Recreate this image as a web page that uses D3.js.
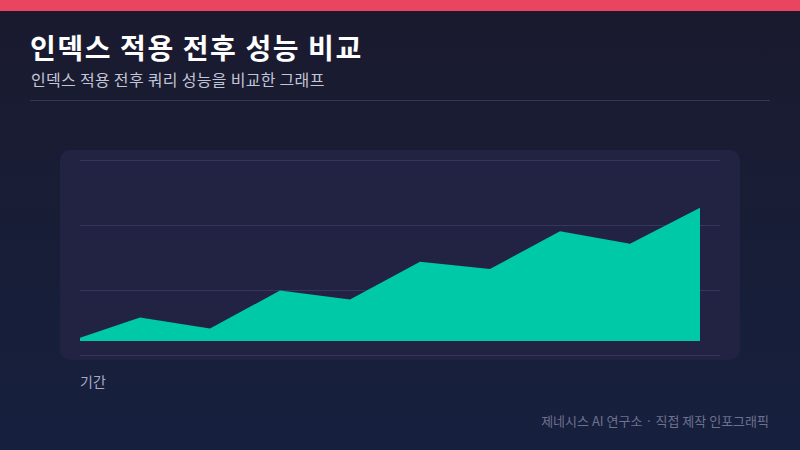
<!DOCTYPE html>
<html>
<head>
<meta charset="utf-8">
<script src="https://cdn.jsdelivr.net/npm/d3@7"></script>
<style>
  html, body { margin: 0; padding: 0; }
  body { width: 800px; height: 450px; overflow: hidden; }
  svg { display: block; }
</style>
</head>
<body>
<div id="chart"></div>
<script>
// periods (not labelled in the picture) and query performance values
var periods = ["1", "2", "3", "4", "5", "6", "7", "8", "9", "10"];
var values = [12, 25, 19, 40, 35, 56, 52, 73, 66, 86];
var gridCount = 4;

var titleText = "인덱스 적용 전후 성능 비교";
var subtitleText = "인덱스 적용 전후 쿼리 성능을 비교한 그래프";
var xLabelText = "기간";
var footerText = "제네시스 AI 연구소 · 직접 제작 인포그래픽";

var width = 800;
var height = 450;
var font = "'Noto Sans CJK KR', 'Noto Sans', sans-serif";

var svg = d3.select("#chart")
  .append("svg")
  .attr("width", width)
  .attr("height", height);

// background gradient
var defs = svg.append("defs");
var bg = defs.append("linearGradient")
  .attr("id", "bg")
  .attr("x1", 0).attr("y1", 0)
  .attr("x2", 0).attr("y2", 1);
bg.append("stop").attr("offset", "0%").attr("stop-color", "#1a1a2e");
bg.append("stop").attr("offset", "100%").attr("stop-color", "#16203e");

svg.append("rect")
  .attr("width", width)
  .attr("height", height)
  .attr("fill", "url(#bg)");

// top accent bar
svg.append("rect")
  .attr("width", width)
  .attr("height", 11)
  .attr("fill", "#e94560");

// titles
svg.append("text")
  .attr("x", 30)
  .attr("y", 59)
  .attr("font-family", font)
  .attr("font-size", "28px")
  .attr("font-weight", "bold")
  .attr("letter-spacing", "1.6px")
  .attr("fill", "#ffffff")
  .text(titleText);

svg.append("text")
  .attr("x", 31)
  .attr("y", 86)
  .attr("font-family", font)
  .attr("font-size", "16px")
  .attr("letter-spacing", "0.3px")
  .attr("fill", "#c4c6d8")
  .text(subtitleText);

svg.append("line")
  .attr("x1", 30).attr("x2", 770)
  .attr("y1", 100.5).attr("y2", 100.5)
  .attr("stroke", "#35365a")
  .attr("stroke-width", 1);

// card behind the plot
svg.append("rect")
  .attr("x", 60)
  .attr("y", 150)
  .attr("width", 680)
  .attr("height", 210)
  .attr("rx", 10)
  .attr("fill", "#222343");

var plot = { left: 80, right: 720, top: 160, bottom: 355 };

// clip the area to the plot box
defs.append("clipPath")
  .attr("id", "plotClip")
  .append("rect")
  .attr("x", plot.left)
  .attr("y", plot.top - 10)
  .attr("width", plot.right - plot.left)
  .attr("height", plot.bottom - plot.top + 10);

// gridlines
var gridScale = d3.scaleLinear()
  .domain([0, gridCount - 1])
  .range([plot.top, plot.bottom]);

svg.append("g")
  .selectAll("line")
  .data(d3.range(gridCount))
  .enter()
  .append("line")
  .attr("x1", plot.left)
  .attr("x2", plot.right)
  .attr("y1", d => Math.round(gridScale(d)) + 0.5)
  .attr("y2", d => Math.round(gridScale(d)) + 0.5)
  .attr("stroke", "#36365a")
  .attr("stroke-width", 1);

// scales
var xScale = d3.scalePoint()
  .domain(periods)
  .range([70, 700]);

var yScale = d3.scaleLinear()
  .domain([12, 112])
  .range([341, 161]);

var area = d3.area()
  .x((d, i) => xScale(periods[i]))
  .y0(yScale(d3.min(values)))
  .y1(d => yScale(d));

svg.append("path")
  .datum(values)
  .attr("clip-path", "url(#plotClip)")
  .attr("d", area)
  .attr("fill", "#00c9a7");

// axis label
svg.append("text")
  .attr("x", 80)
  .attr("y", 387)
  .attr("font-family", font)
  .attr("font-size", "14px")
  .attr("fill", "#a9abc2")
  .text(xLabelText);

// footer
svg.append("text")
  .attr("x", 769)
  .attr("y", 426)
  .attr("text-anchor", "end")
  .attr("font-family", font)
  .attr("font-size", "13px")
  .attr("fill", "#6e7190")
  .text(footerText);
</script>
</body>
</html>
